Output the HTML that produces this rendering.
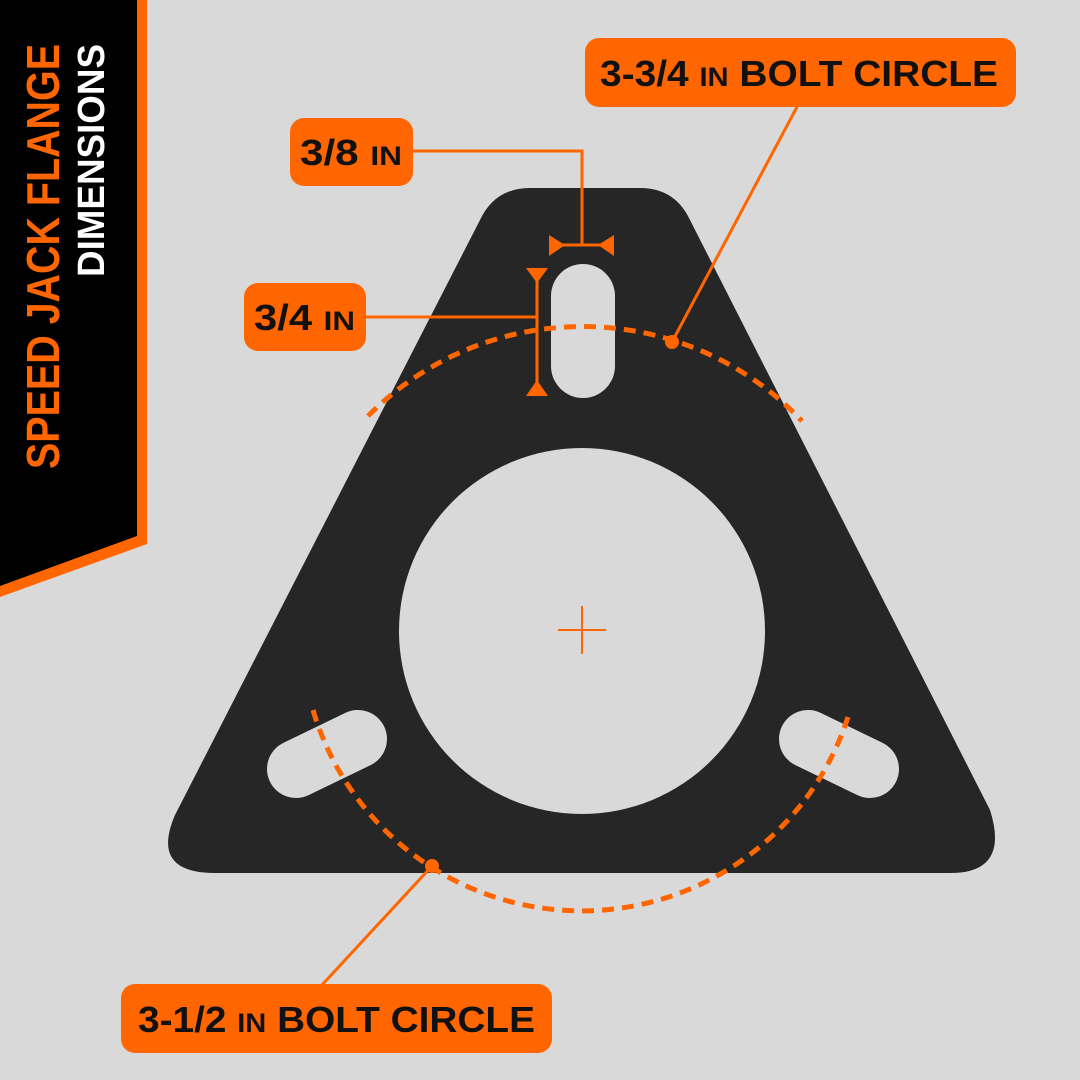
<!DOCTYPE html>
<html><head><meta charset="utf-8"><style>
html,body{margin:0;padding:0;background:#d9d9d9;}
svg{display:block;}
text{font-family:"Liberation Sans",sans-serif;font-weight:bold;}
</style></head><body>
<svg width="1080" height="1080" viewBox="0 0 1080 1080" xmlns="http://www.w3.org/2000/svg">
<rect width="1080" height="1080" fill="#d9d9d9"/>
<polygon points="0,0 147,0 147,544 0,597" fill="#ff6600"/>
<polygon points="0,0 137,0 137,536 0,586" fill="#000"/>
<text transform="translate(59,469) rotate(-90)" font-size="46" fill="#ff6600" textLength="425" lengthAdjust="spacingAndGlyphs">SPEED JACK FLANGE</text>
<text transform="translate(104,277) rotate(-90)" font-size="38" fill="#fff" textLength="233" lengthAdjust="spacingAndGlyphs">DIMENSIONS</text>
<path d="M 530,188 L 640,188 Q 675,188 690,220 L 990,810 Q 1010,873 950,873 L 215,873 Q 150,873 175,815 L 480,220 Q 495,188 530,188 Z" fill="#262626"/>
<circle cx="582" cy="631" r="183" fill="#d9d9d9"/>
<line x1="583" y1="296" x2="583" y2="366" stroke="#d9d9d9" stroke-width="64" stroke-linecap="round"/>
<line x1="296" y1="769" x2="358" y2="739" stroke="#d9d9d9" stroke-width="58" stroke-linecap="round"/>
<line x1="808" y1="739" x2="870" y2="769" stroke="#d9d9d9" stroke-width="58" stroke-linecap="round"/>
<line x1="558" y1="630" x2="606" y2="630" stroke="#ff6600" stroke-width="2"/>
<line x1="582" y1="606" x2="582" y2="654" stroke="#ff6600" stroke-width="2"/>
<path d="M 368,416 A 302 302 0 0 1 802,421" fill="none" stroke="#ff6600" stroke-width="5" stroke-dasharray="12,8"/>
<path d="M 313,710 A 280 280 0 0 0 848,717" fill="none" stroke="#ff6600" stroke-width="5" stroke-dasharray="12,8"/>
<circle cx="672" cy="342" r="7" fill="#ff6600"/>
<circle cx="432" cy="866" r="7" fill="#ff6600"/>
<line x1="672" y1="342" x2="798" y2="105" stroke="#ff6600" stroke-width="3"/>
<line x1="432" y1="866" x2="322" y2="985" stroke="#ff6600" stroke-width="3"/>
<polyline points="413,151 582,151 582,245" fill="none" stroke="#ff6600" stroke-width="3"/>
<line x1="560" y1="245" x2="604" y2="245" stroke="#ff6600" stroke-width="3"/>
<polygon points="549,235 565,245 549,256" fill="#ff6600"/>
<polygon points="614,235 598,245 614,256" fill="#ff6600"/>
<line x1="366" y1="317" x2="537" y2="317" stroke="#ff6600" stroke-width="3"/>
<line x1="537" y1="275" x2="537" y2="388" stroke="#ff6600" stroke-width="3"/>
<polygon points="526,268 548,268 537,283" fill="#ff6600"/>
<polygon points="526,396 548,396 537,380" fill="#ff6600"/>
<rect x="585" y="38" width="431" height="69" rx="14" fill="#ff6600"/>
<text x="600" y="86" font-size="36" fill="#111" textLength="398" lengthAdjust="spacingAndGlyphs">3-3/4 <tspan font-size="27">IN</tspan> BOLT CIRCLE</text>
<rect x="290" y="118" width="123" height="68" rx="14" fill="#ff6600"/>
<text x="300" y="165" font-size="36" fill="#111" textLength="102" lengthAdjust="spacingAndGlyphs">3/8 <tspan font-size="27">IN</tspan></text>
<rect x="244" y="283" width="122" height="68" rx="14" fill="#ff6600"/>
<text x="254" y="330" font-size="36" fill="#111" textLength="101" lengthAdjust="spacingAndGlyphs">3/4 <tspan font-size="27">IN</tspan></text>
<rect x="121" y="984" width="431" height="69" rx="14" fill="#ff6600"/>
<text x="138" y="1032" font-size="36" fill="#111" textLength="397" lengthAdjust="spacingAndGlyphs">3-1/2 <tspan font-size="27">IN</tspan> BOLT CIRCLE</text>
</svg>
</body></html>
